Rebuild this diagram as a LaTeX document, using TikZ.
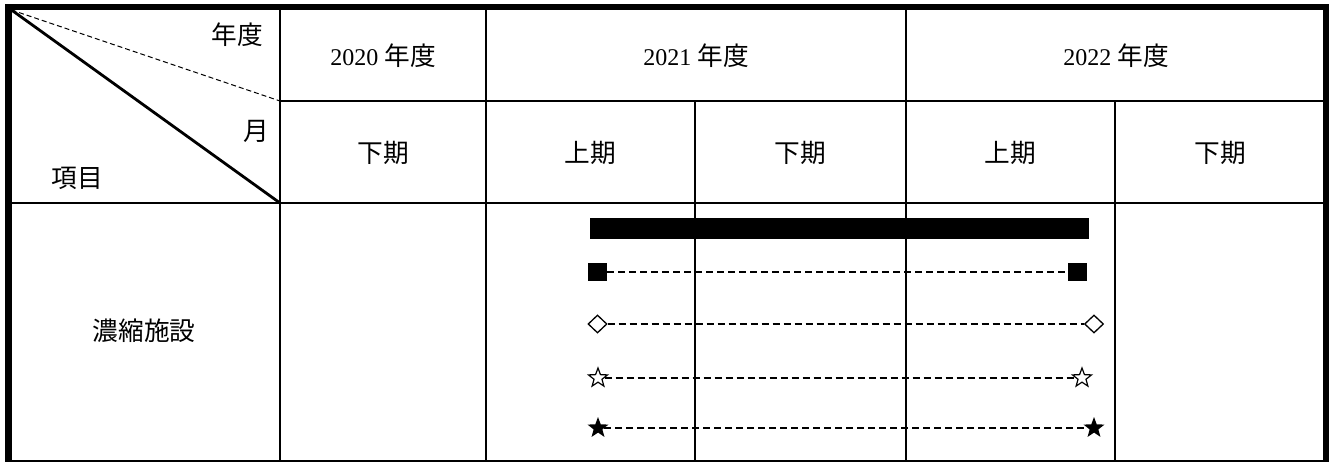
\documentclass[tikz,border=0pt]{standalone}
\usepackage{fontspec}
\setmainfont{Liberation Serif}
\newfontfamily\cjk[Scale=1.07]{Noto Sans CJK JP}
\usetikzlibrary{shapes.geometric}
\begin{document}
\begin{tikzpicture}[x=1pt,y=-1pt,
  grid/.style={line width=2pt},
  outer/.style={line width=6.5pt},
  diag/.style={line width=2.8pt},
  diagdash/.style={line width=1pt, dash pattern=on 5pt off 3pt},
  dline/.style={line width=1.1pt, dash pattern=on 7pt off 4pt},
  txt/.style={inner sep=0pt, font=\fontsize{24}{28}\selectfont},
  sq/.style={fill=black, minimum width=19pt, minimum height=18pt, inner sep=0pt},
  dia/.style={diamond, draw, line width=1.3pt, shape aspect=1, minimum width=19pt, minimum height=18pt, inner sep=0pt},
  ostar/.style={star, star points=5, star point ratio=2.4, draw, line width=1.2pt, minimum size=20pt, inner sep=0pt},
  fstar/.style={star, star points=5, star point ratio=2.4, fill=black, minimum size=22pt, inner sep=0pt},
  bar/.style={fill=black, minimum width=499pt, minimum height=21pt, inner sep=0pt}
]
\useasboundingbox (0,0) rectangle (1336,462);
% grid
\draw[grid] (280,7) -- (280,462);
\draw[grid] (486,7) -- (486,462);
\draw[grid] (906,7) -- (906,462);
\draw[grid] (695,101) -- (695,462);
\draw[grid] (1115,101) -- (1115,462);
\draw[grid] (280,101) -- (1326,101);
\draw[grid] (8.5,203) -- (1326,203);
% diagonals
\coordinate (tl) at (11.5,10);
\coordinate (dm) at (280,101);
\coordinate (db) at (280,203);
\draw[diag] (tl) -- (db);
\draw[diagdash] (tl) -- (dm);
% outer border
\draw[outer] (8.5,7) rectangle (1326,463);
% header texts
\node[txt] (nendo) at (237.5,35) {\cjk 年度};
\node[txt] (tsuki) at (256,131) {\cjk 月};
\node[txt] (komoku) at (77,178) {\cjk 項目};
\node[txt] (y2020) at (383,56) {2020 {\cjk 年度}};
\node[txt] (y2021) at (696,56) {2021 {\cjk 年度}};
\node[txt] (y2022) at (1116,56) {2022 {\cjk 年度}};
\node[txt] (h1) at (383,153) {\cjk 下期};
\node[txt] (h2) at (590.5,153) {\cjk 上期};
\node[txt] (h3) at (800.5,153) {\cjk 下期};
\node[txt] (h4) at (1010.5,153) {\cjk 上期};
\node[txt] (h5) at (1220.5,153) {\cjk 下期};
\node[txt] (item) at (144,331) {\cjk 濃縮施設};
% bar and markers
\node[bar] (bar) at (839.5,228.5) {};
\node[sq] (s1) at (597.5,272) {};
\node[sq] (s2) at (1077,272) {};
\node[dia] (d1) at (597.5,324) {};
\node[dia] (d2) at (1094,324) {};
\node[ostar] (o1) at (598,378) {};
\node[ostar] (o2) at (1082,378) {};
\node[fstar] (f1) at (598,428) {};
\node[fstar] (f2) at (1094,428) {};
\draw[dline] (s1.east) -- (s2.west);
\draw[dline] (d1.east) -- (d2.west);
\draw[dline] (o1.east) -- (o2.west);
\draw[dline] (f1.east) -- (f2.west);
\end{tikzpicture}
\end{document}
